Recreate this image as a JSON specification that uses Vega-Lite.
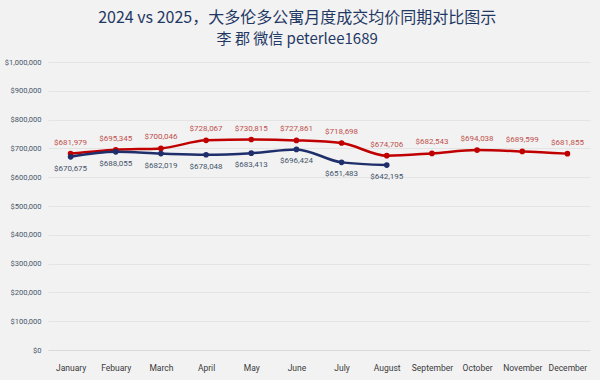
{
  "$schema": "https://vega.github.io/schema/vega-lite/v6.json",
  "width": 542,
  "height": 288,
  "padding": {"left": 4, "right": 10, "top": 10, "bottom": 8},
  "background": "#f2f2f2",
  "title": {
    "text": "2024 vs 2025，大多伦多公寓月度成交均价同期对比图示",
    "subtitle": "李 郡 微信 peterlee1689",
    "anchor": "middle",
    "frame": "bounds",
    "font": "Noto Sans CJK SC",
    "fontSize": 16,
    "fontWeight": "normal",
    "color": "#1f3864",
    "subtitleFont": "Noto Sans CJK SC",
    "subtitleFontSize": 15,
    "subtitleColor": "#1f3864",
    "subtitlePadding": 6,
    "offset": 11
  },
  "config": {
    "view": {"stroke": null},
    "font": "Roboto"
  },
  "data": {
    "values": [
      {"month": "January", "year": "2024", "price": 681979},
      {"month": "Febuary", "year": "2024", "price": 695345},
      {"month": "March", "year": "2024", "price": 700046},
      {"month": "April", "year": "2024", "price": 728067},
      {"month": "May", "year": "2024", "price": 730815},
      {"month": "June", "year": "2024", "price": 727861},
      {"month": "July", "year": "2024", "price": 718698},
      {"month": "August", "year": "2024", "price": 674706},
      {"month": "September", "year": "2024", "price": 682543},
      {"month": "October", "year": "2024", "price": 694038},
      {"month": "November", "year": "2024", "price": 689599},
      {"month": "December", "year": "2024", "price": 681855},
      {"month": "January", "year": "2025", "price": 670675},
      {"month": "Febuary", "year": "2025", "price": 688055},
      {"month": "March", "year": "2025", "price": 682019},
      {"month": "April", "year": "2025", "price": 678048},
      {"month": "May", "year": "2025", "price": 683413},
      {"month": "June", "year": "2025", "price": 696424},
      {"month": "July", "year": "2025", "price": 651483},
      {"month": "August", "year": "2025", "price": 642195}
    ]
  },
  "encoding": {
    "x": {
      "field": "month",
      "type": "ordinal",
      "sort": ["January", "Febuary", "March", "April", "May", "June", "July", "August", "September", "October", "November", "December"],
      "scale": {"type": "point", "padding": 0.5},
      "axis": {
        "title": null,
        "labelAngle": 0,
        "ticks": false,
        "domain": true,
        "domainColor": "#d9d9d9",
        "labelColor": "#3a3a3a",
        "labelFontSize": 8.5,
        "labelPadding": 13,
        "labelFont": "Liberation Sans Narrow, Roboto"
      }
    },
    "y": {
      "field": "price",
      "type": "quantitative",
      "scale": {"domain": [0, 1000000]},
      "axis": {
        "title": null,
        "values": [0, 100000, 200000, 300000, 400000, 500000, 600000, 700000, 800000, 900000, 1000000],
        "format": "$,.0f",
        "ticks": false,
        "domain": false,
        "gridColor": "#e4e4e4",
        "labelColor": "#44546a",
        "labelFontSize": 7.5,
        "labelPadding": 7
      }
    },
    "color": {
      "field": "year",
      "type": "nominal",
      "scale": {"domain": ["2024", "2025"], "range": ["#c00000", "#1f2f6b"]},
      "legend": null
    }
  },
  "layer": [
    {"mark": {"type": "line", "interpolate": "monotone", "strokeWidth": 2.5}},
    {"mark": {"type": "point", "filled": true, "size": 32, "opacity": 1}},
    {
      "transform": [{"filter": "datum.year === '2024'"}],
      "mark": {"type": "text", "dy": -11, "fontSize": 8},
      "encoding": {
        "text": {"field": "price", "type": "quantitative", "format": "$,.0f"},
        "color": {"value": "#c0504d"}
      }
    },
    {
      "transform": [{"filter": "datum.year === '2025'"}],
      "mark": {"type": "text", "dy": 12, "fontSize": 8},
      "encoding": {
        "text": {"field": "price", "type": "quantitative", "format": "$,.0f"},
        "color": {"value": "#44546a"}
      }
    }
  ]
}
